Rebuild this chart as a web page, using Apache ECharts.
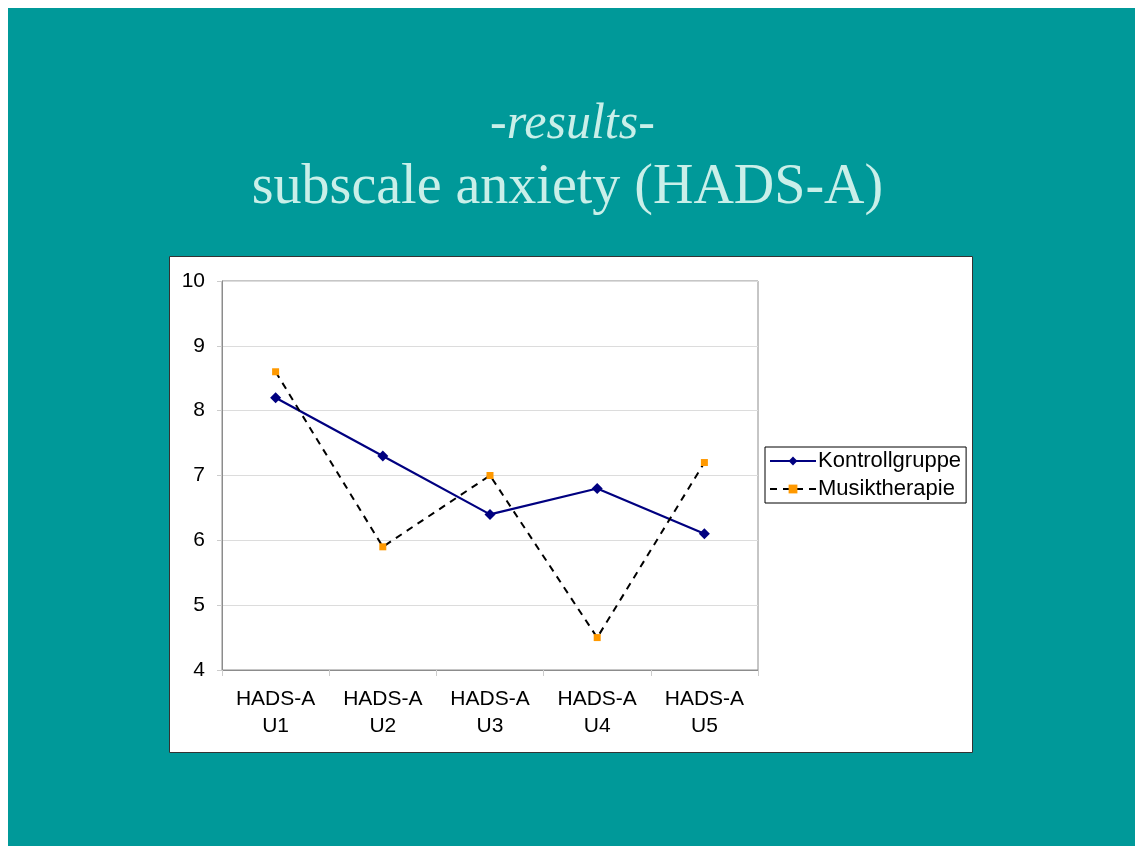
<!DOCTYPE html>
<html>
<head>
<meta charset="utf-8">
<script src="https://cdn.jsdelivr.net/npm/echarts@6/dist/echarts.min.js"></script>
<style>
html,body{margin:0;padding:0;background:#fff;}
#chart{width:1135px;height:846px;}
</style>
</head>
<body>
<div id="chart"></div>
<script>
const categories = ['HADS-A\nU1', 'HADS-A\nU2', 'HADS-A\nU3', 'HADS-A\nU4', 'HADS-A\nU5'];
const kontrollgruppe = [8.2, 7.3, 6.4, 6.8, 6.1];
const musiktherapie = [8.6, 5.9, 7.0, 4.5, 7.2];
const yTicks = { min: 4, max: 10, interval: 1 };

const chart = echarts.init(document.getElementById('chart'), null, { renderer: 'canvas' });
const sans = '"Liberation Sans", Arial, Helvetica, sans-serif';
const serif = '"Liberation Serif", "Times New Roman", serif';
chart.setOption({
  backgroundColor: '#ffffff',
  animation: false,
  graphic: [
    { type: 'rect', z: -100, silent: true, shape: { x: 8, y: 8, width: 1127, height: 838 }, style: { fill: '#009999' } },
    { type: 'rect', z: -90, silent: true, shape: { x: 169.5, y: 256.5, width: 803, height: 496 }, style: { fill: '#ffffff', stroke: '#333333', lineWidth: 1 } }
  ],
  title: [
    { text: '-results-', left: 485, top: 95, textStyle: { fontFamily: serif, fontStyle: 'italic', fontWeight: 'normal', fontSize: 50, color: '#c9efe9' } },
    { text: 'subscale anxiety (HADS-A)', left: 'center', top: 155, textStyle: { fontFamily: serif, fontWeight: 'normal', fontSize: 56, color: '#c9efe9' } }
  ],
  legend: {
    orient: 'vertical',
    left: 765, top: 447,
    backgroundColor: '#ffffff',
    borderColor: '#000000', borderWidth: 1,
    padding: [3, 5, 3, 4],
    itemWidth: 46, itemHeight: 11, itemGap: 6,
    textStyle: { fontFamily: sans, fontSize: 22, color: '#000000', padding: [0, 0, 0, -3] },
    data: ['Kontrollgruppe', 'Musiktherapie']
  },
  grid: {
    left: 222, top: 281, width: 536, height: 389,
    show: true, borderColor: '#8c8c8c', borderWidth: 1, backgroundColor: 'transparent'
  },
  xAxis: {
    type: 'category', data: categories, boundaryGap: true,
    axisLine: { show: true, lineStyle: { color: '#8c8c8c', width: 1 } },
    axisTick: { show: true, length: 6, lineStyle: { color: '#cccccc' } },
    axisLabel: { fontFamily: sans, fontSize: 21, color: '#000000', margin: 16, lineHeight: 27 },
    splitLine: { show: false }
  },
  yAxis: {
    type: 'value', min: yTicks.min, max: yTicks.max, interval: yTicks.interval,
    axisLine: { show: true, lineStyle: { color: '#8c8c8c', width: 1 } },
    axisTick: { show: true, length: 5, lineStyle: { color: '#cccccc' } },
    axisLabel: { fontFamily: sans, fontSize: 21, color: '#000000', margin: 17 },
    splitLine: { show: true, lineStyle: { color: '#dcdcdc', width: 1 } }
  },
  series: [
    {
      name: 'Kontrollgruppe', type: 'line', data: kontrollgruppe,
      symbol: 'diamond', symbolSize: 11, showAllSymbol: true,
      lineStyle: { color: '#000080', width: 2.2 },
      itemStyle: { color: '#000080' }
    },
    {
      name: 'Musiktherapie', type: 'line', data: musiktherapie,
      symbol: 'rect', symbolSize: 7, showAllSymbol: true,
      lineStyle: { color: '#000000', width: 2, type: [7, 6] },
      itemStyle: { color: '#ff9900' }
    }
  ]
});
</script>
</body>
</html>
